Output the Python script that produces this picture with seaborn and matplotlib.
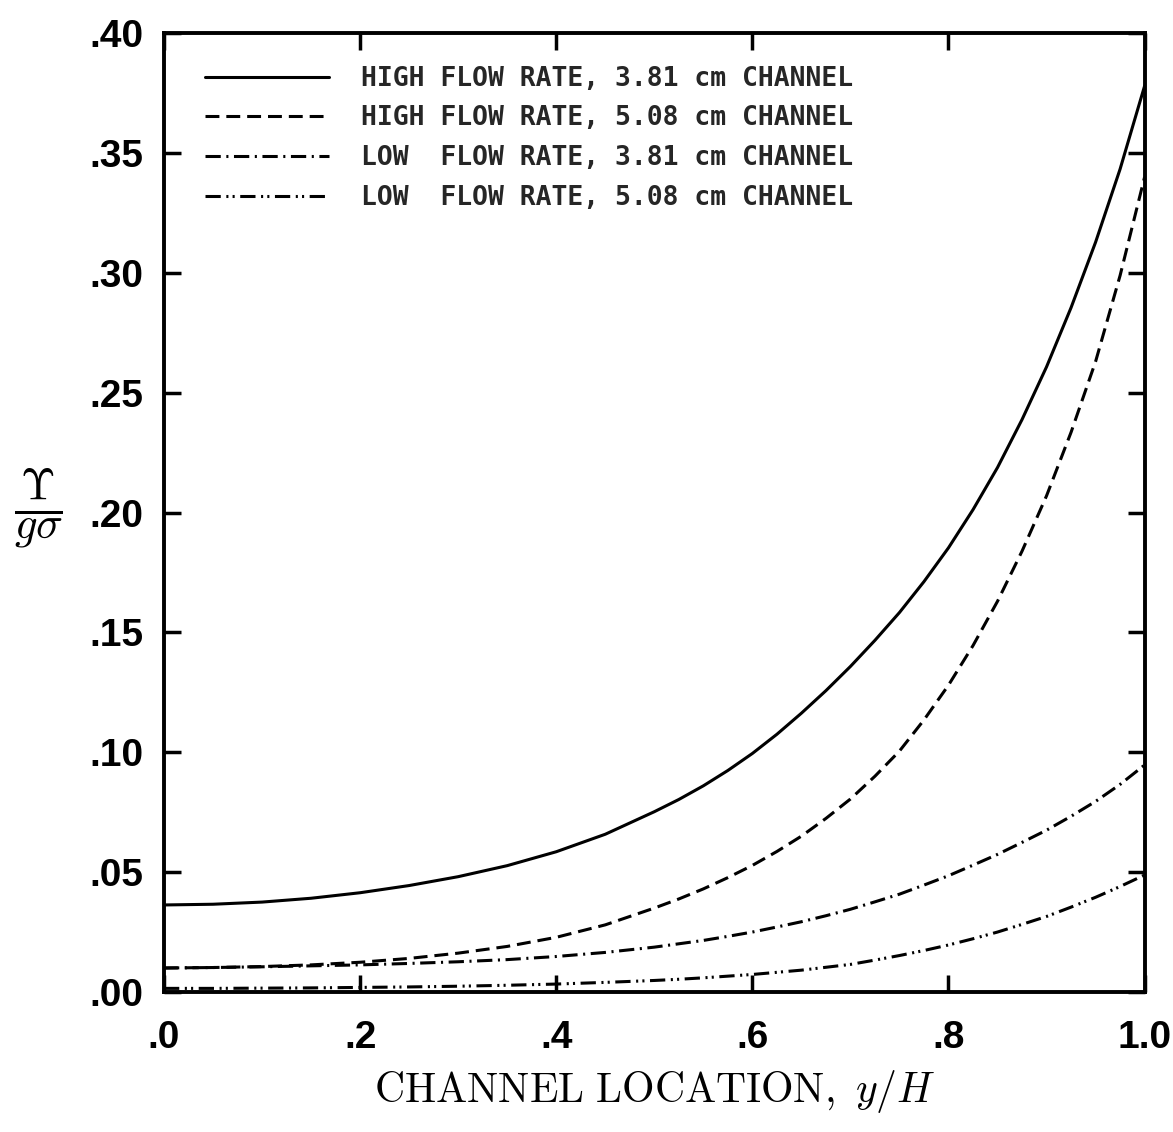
import numpy as np
import pandas as pd
import matplotlib
matplotlib.use("Agg")
import matplotlib.pyplot as plt
import seaborn as sns

# ---- data ----
x_loc = [0.00, 0.05, 0.10, 0.15, 0.20, 0.25, 0.30, 0.35, 0.40, 0.45, 0.50,
         0.525, 0.55, 0.575, 0.60, 0.625, 0.65, 0.675, 0.70, 0.725, 0.75,
         0.775, 0.80, 0.825, 0.85, 0.875, 0.90, 0.925, 0.95, 0.975, 1.00]
high_381 = [0.0363, 0.0366, 0.0375, 0.0391, 0.0414, 0.0444, 0.0481, 0.0527, 0.0585, 0.0658, 0.0752,
            0.0803, 0.0860, 0.0924, 0.0995, 0.1075, 0.1163, 0.1257, 0.1358, 0.1467, 0.1583,
            0.1712, 0.1853, 0.2012, 0.2188, 0.2388, 0.2608, 0.2855, 0.3128, 0.3433, 0.3780]
high_508 = [0.0100, 0.0102, 0.0106, 0.0113, 0.0124, 0.0140, 0.0162, 0.0190, 0.0228, 0.0280, 0.0350,
            0.0388, 0.0430, 0.0477, 0.0528, 0.0586, 0.0650, 0.0724, 0.0805, 0.0900, 0.1005,
            0.1135, 0.1280, 0.1445, 0.1630, 0.1839, 0.2070, 0.2335, 0.2630, 0.2989, 0.3400]
low_381 = [0.0100, 0.0102, 0.0105, 0.0109, 0.0113, 0.0119, 0.0126, 0.0135, 0.0148, 0.0165, 0.0187,
           0.0201, 0.0215, 0.0232, 0.0250, 0.0271, 0.0293, 0.0318, 0.0345, 0.0376, 0.0408,
           0.0446, 0.0485, 0.0529, 0.0574, 0.0624, 0.0675, 0.0733, 0.0795, 0.0866, 0.0947]
low_508 = [0.0015, 0.0015, 0.0016, 0.0017, 0.0019, 0.0021, 0.0024, 0.0028, 0.0033, 0.0040, 0.0048,
           0.0053, 0.0059, 0.0066, 0.0073, 0.0082, 0.0091, 0.0103, 0.0115, 0.0133, 0.0152,
           0.0173, 0.0196, 0.0222, 0.0250, 0.0282, 0.0315, 0.0354, 0.0395, 0.0440, 0.0488]
series_names = ["HIGH FLOW RATE, 3.81 cm CHANNEL",
                "HIGH FLOW RATE, 5.08 cm CHANNEL",
                "LOW  FLOW RATE, 3.81 cm CHANNEL",
                "LOW  FLOW RATE, 5.08 cm CHANNEL"]
x_ticks = [0.0, 0.2, 0.4, 0.6, 0.8, 1.0]
x_tick_labels = [".0", ".2", ".4", ".6", ".8", "1.0"]
y_ticks = [0.00, 0.05, 0.10, 0.15, 0.20, 0.25, 0.30, 0.35, 0.40]
y_tick_labels = [".00", ".05", ".10", ".15", ".20", ".25", ".30", ".35", ".40"]

df = pd.concat([
    pd.DataFrame({"x": x_loc, "y": vals, "series": name})
    for name, vals in zip(series_names, [high_381, high_508, low_381, low_508])
], ignore_index=True)

# ---- styling ----
sns.set_theme(style="ticks")
plt.rcParams["font.family"] = ["Liberation Sans", "DejaVu Sans"]
plt.rcParams["mathtext.fontset"] = "cm"
plt.rcParams["lines.scale_dashes"] = False

fig = plt.figure(figsize=(11.73, 11.32), dpi=100)
ax = fig.add_axes([0.1398, 0.1237, 0.836, 0.847])

dash_map = {
    series_names[0]: "",
    series_names[1]: (10, 5),
    series_names[2]: (11, 4, 1.5, 4),
    series_names[3]: (11, 4, 1.5, 3, 1.5, 4),
}
sns.lineplot(data=df, x="x", y="y", hue="series", style="series",
             palette=["black"] * 4, dashes=dash_map, linewidth=2.2,
             legend=False, ax=ax, sort=True, estimator=None)

ax.set_xlim(0, 1.0)
ax.set_ylim(0, 0.40)
ax.set_xticks(x_ticks)
ax.set_xticklabels(x_tick_labels)
ax.set_yticks(y_ticks)
ax.set_yticklabels(y_tick_labels)
ax.tick_params(direction="in", length=12, width=2.5, top=True, right=True,
               labelsize=28, color="black", labelcolor="black")
ax.tick_params(axis="y", pad=15)
ax.tick_params(axis="x", pad=20)
for lab in ax.get_xticklabels() + ax.get_yticklabels():
    lab.set_fontweight("bold")
for sp in ax.spines.values():
    sp.set_linewidth(2.8)
    sp.set_color("black")
    sp.set_visible(True)

ax.set_xlabel(r"$\mathrm{CHANNEL\ LOCATION,}\ y/H$", fontsize=30, labelpad=9, color="black")
ax.set_ylabel(r"$\frac{\Upsilon}{g\sigma}$", fontsize=46, rotation=0, color="black",
              va="center", ha="center")
ax.yaxis.set_label_coords(-0.128, 0.505)

handles = ax.get_lines()[:4]
ax.legend(handles, series_names, loc="upper left", bbox_to_anchor=(0.042, 0.966),
          frameon=False, borderaxespad=0, borderpad=0,
          prop={"family": "DejaVu Sans Mono", "weight": "bold", "size": 19},
          handlelength=4.7, handletextpad=1.2, labelspacing=0.52)

fig.savefig("out.png", dpi=100, facecolor="white")
